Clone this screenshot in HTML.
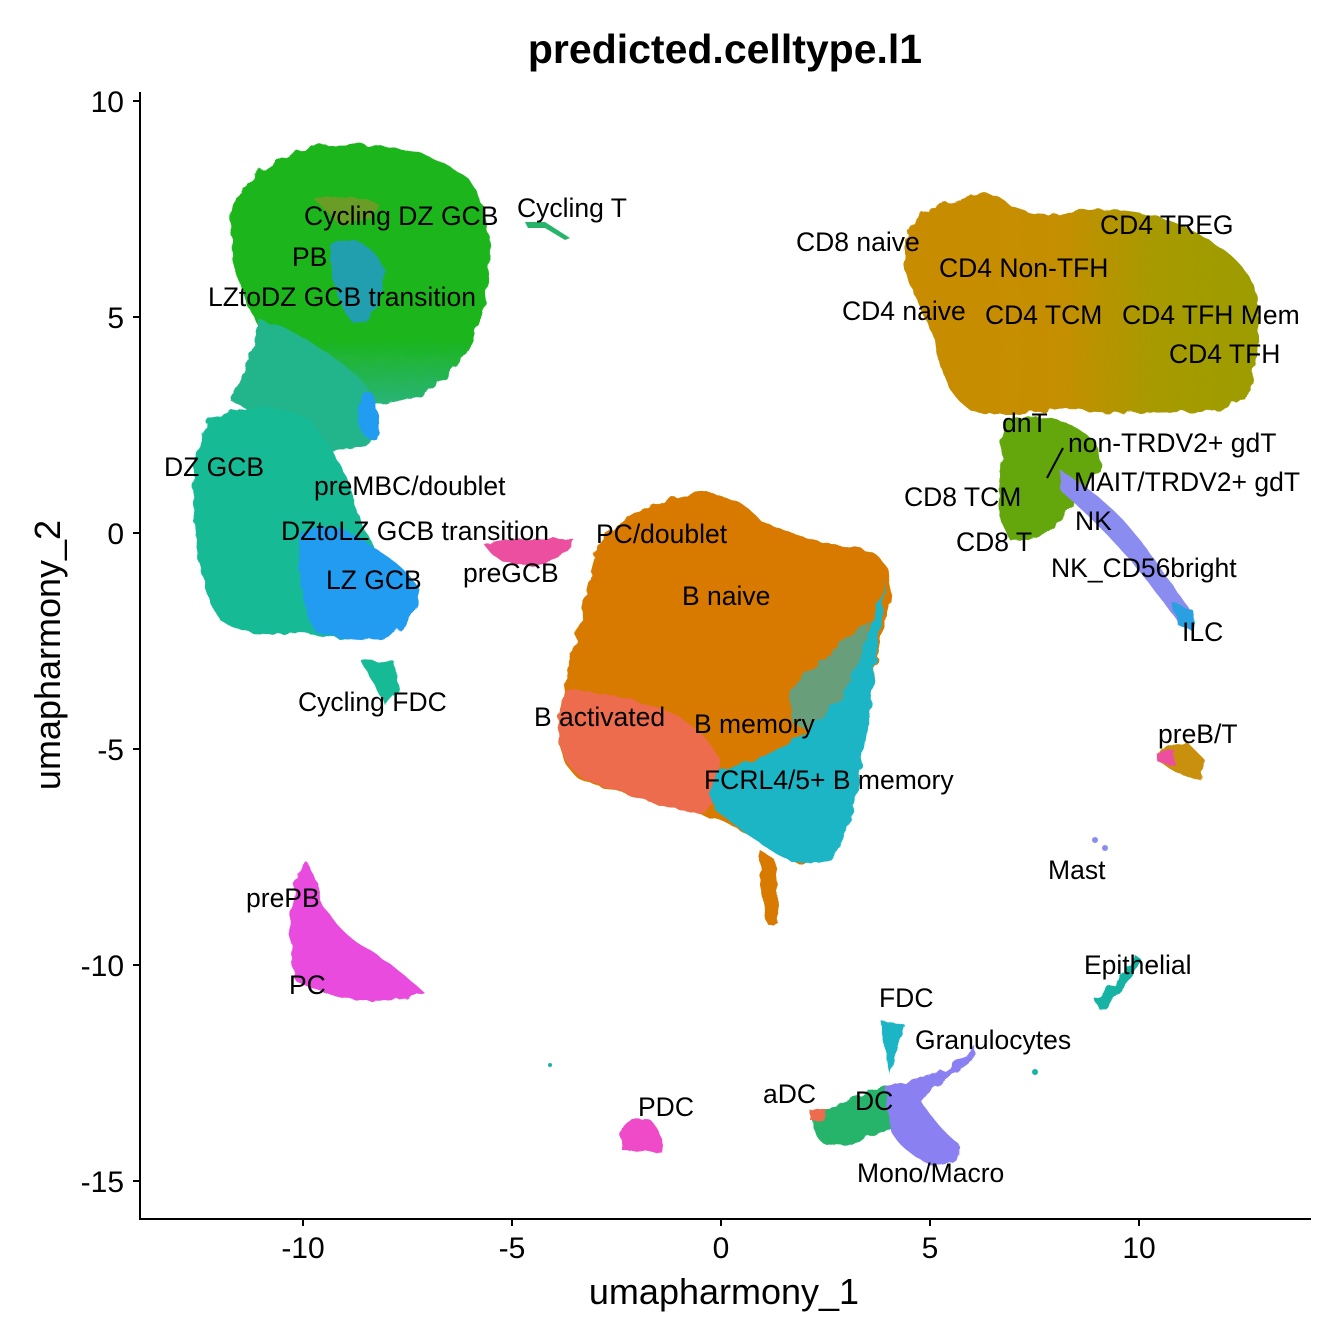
<!DOCTYPE html>
<html><head><meta charset="utf-8"><style>
html,body{margin:0;padding:0;background:#fff;}
svg{display:block;font-family:"Liberation Sans",Arial,sans-serif;}
.l{font-size:26.5px;fill:#000;}
.t{font-size:30px;fill:#000;}
</style></head><body>
<svg width="1344" height="1344" viewBox="0 0 1344 1344" xmlns="http://www.w3.org/2000/svg">
<defs>
<filter id="r" x="-5%" y="-5%" width="110%" height="110%">
<feTurbulence type="fractalNoise" baseFrequency="0.08" numOctaves="2" seed="3"/>
<feDisplacementMap in="SourceGraphic" scale="8"/>
</filter>
<linearGradient id="tg" x1="0" x2="1" y1="0" y2="0">
<stop offset="0" stop-color="#c98b05"/><stop offset="0.45" stop-color="#c48f03"/><stop offset="0.7" stop-color="#a79a05"/><stop offset="1" stop-color="#9c9d05"/>
</linearGradient>
<linearGradient id="gb" x1="0" x2="0" y1="0" y2="1">
<stop offset="0" stop-color="#1cb51c"/><stop offset="0.75" stop-color="#1cb51c"/><stop offset="1" stop-color="#2ab478"/>
</linearGradient>
</defs>
<text x="725" y="63" text-anchor="middle" font-weight="bold" font-size="41">predicted.celltype.l1</text>
<g filter="url(#r)">
<path d="M240,190 Q280,148 330,145 Q420,140 470,180 Q500,230 485,300 Q470,370 420,395 Q380,410 360,400 Q330,380 300,380 Q250,330 232,260 Q228,210 240,190Z" fill="url(#gb)"/>
<path d="M330,240 Q370,235 385,270 Q380,320 355,325 Q330,300 330,240Z" fill="#2496ec" opacity="0.7"/>
<path d="M315,200 Q345,190 380,205 Q370,225 340,225Z" fill="#e07a3a" opacity="0.4"/>
<path d="M260,320 Q300,330 350,370 Q380,390 375,440 Q340,460 300,440 Q250,410 230,400 Q250,360 260,320Z" fill="#22b58c"/>
<path d="M210,420 Q260,395 310,420 Q350,470 360,520 Q380,560 395,590 Q400,630 370,638 Q330,640 300,632 Q250,640 220,620 Q195,580 193,500 Q195,440 210,420Z" fill="#17bb96"/>
<path d="M300,530 Q340,520 370,545 Q405,565 420,590 Q412,630 380,640 Q340,640 315,632 Q295,590 300,530Z" fill="#249cf0"/>
<path d="M362,390 Q380,385 378,440 Q365,445 358,420Z" fill="#249cf0"/>
<path d="M360,660 L395,662 L400,690 L385,705 L372,680Z" fill="#17bb96"/>
<path d="M485,545 Q520,535 575,540 Q570,560 530,565 Q495,565 485,545Z" fill="#ed4fa0"/>
<path d="M600,540 Q640,500 700,492 Q740,495 760,520 Q800,540 870,550 Q895,565 890,600 Q880,640 870,700 Q860,760 850,820 Q830,860 800,865 Q760,840 720,820 Q640,800 580,780 Q555,760 558,720 Q570,660 580,620 Q590,570 600,540Z" fill="#d97a06"/>
<path d="M565,690 Q600,690 650,705 Q700,720 720,760 Q720,800 700,815 Q640,800 585,780 Q555,760 558,720Z" fill="#ec6c4e"/>
<path d="M720,770 Q780,760 840,700 Q870,640 885,580 Q875,680 862,760 Q855,830 830,860 Q800,870 770,850 Q740,830 715,810 Q705,790 720,770Z" fill="#1bb5c6"/>
<path d="M790,690 Q830,650 870,620 Q860,680 845,720 Q810,740 790,720Z" fill="#1bb5c6" opacity="0.6"/>
<path d="M760,850 L775,860 L780,925 L768,925 L760,885Z" fill="#d97a06"/>
<path d="M905,240 Q920,200 960,200 Q990,185 1010,205 Q1040,220 1080,210 Q1150,205 1200,235 Q1250,260 1258,300 Q1260,350 1250,390 Q1230,415 1180,412 Q1100,415 1060,408 Q1000,420 970,410 Q940,390 935,340 Q915,300 905,270Z" fill="url(#tg)"/>
<path d="M1005,420 Q1050,410 1080,430 Q1105,445 1100,470 Q1080,500 1060,520 Q1040,545 1010,540 Q995,520 1000,480 Q1000,440 1005,420Z" fill="#63a70f"/>
<path d="M1060,470 Q1110,500 1140,540 Q1170,580 1190,610 L1195,628 L1180,625 Q1155,590 1130,560 Q1100,525 1060,490Z" fill="#8a8cf0"/>
<path d="M1170,600 L1195,612 L1193,632 L1178,625Z" fill="#2aa0e0"/>
<path d="M1155,752 L1185,740 L1205,760 L1200,780 L1180,775 L1160,762Z" fill="#c8900a"/>
<path d="M1155,752 L1175,750 L1175,765 L1158,762Z" fill="#ed4fa0"/>
<path d="M305,862 Q312,860 320,900 Q340,935 370,950 Q400,970 425,993 Q400,1003 360,1000 Q320,995 295,980 Q288,940 292,900 Q298,870 305,862Z" fill="#e84bde"/>
<path d="M625,1125 Q645,1110 655,1125 Q665,1140 662,1152 L622,1150 Q618,1138 625,1125Z" fill="#ef4bc8"/>
<path d="M812,1112 Q850,1100 885,1085 Q905,1100 895,1125 Q870,1140 830,1148 Q812,1140 812,1112Z" fill="#27b36a"/>
<path d="M885,1085 Q910,1080 945,1070 Q960,1060 975,1045 L972,1060 Q945,1080 920,1100 Q940,1130 960,1145 Q962,1165 930,1165 Q900,1150 890,1130Z" fill="#8a80f2"/>
<path d="M810,1110 L825,1108 L825,1122 L810,1120Z" fill="#ec6c4e"/>
<path d="M880,1020 L905,1025 L900,1040 L890,1075 L883,1040Z" fill="#1bb5c6"/>
<path d="M1095,1000 Q1120,980 1135,955 L1142,960 Q1130,985 1100,1010Z" fill="#19b3a5"/>
</g>
<path d="M525,222 L545,222 L570,238 L565,240 L545,228 L528,228Z" fill="#27b36a"/>
<circle cx="1095" cy="840" r="3" fill="#8a8cf0"/><circle cx="1105" cy="848" r="3" fill="#8a8cf0"/>
<circle cx="1035" cy="1072" r="3" fill="#19b3a5"/><circle cx="550" cy="1065" r="2" fill="#19b3a5"/>
<line x1="1047" y1="478" x2="1063" y2="448" stroke="#000" stroke-width="2"/>
<line x1="140" y1="92" x2="140" y2="1219" stroke="#000" stroke-width="2"/>
<line x1="139" y1="1219" x2="1311" y2="1219" stroke="#000" stroke-width="2"/>
<g stroke="#000" stroke-width="2">
<line x1="133" y1="101" x2="140" y2="101"/><line x1="133" y1="317" x2="140" y2="317"/><line x1="133" y1="533" x2="140" y2="533"/><line x1="133" y1="749" x2="140" y2="749"/><line x1="133" y1="965" x2="140" y2="965"/><line x1="133" y1="1181" x2="140" y2="1181"/>
<line x1="303" y1="1219" x2="303" y2="1226"/><line x1="512" y1="1219" x2="512" y2="1226"/><line x1="721" y1="1219" x2="721" y2="1226"/><line x1="930" y1="1219" x2="930" y2="1226"/><line x1="1139" y1="1219" x2="1139" y2="1226"/>
</g>
<g class="t" text-anchor="end">
<text x="124" y="112">10</text><text x="124" y="328">5</text><text x="124" y="544">0</text><text x="124" y="760">-5</text><text x="124" y="976">-10</text><text x="124" y="1192">-15</text>
</g>
<g class="t" text-anchor="middle">
<text x="303" y="1258">-10</text><text x="512" y="1258">-5</text><text x="721" y="1258">0</text><text x="930" y="1258">5</text><text x="1139" y="1258">10</text>
</g>
<text x="724" y="1304" text-anchor="middle" font-size="36">umapharmony_1</text>
<text transform="translate(60,655) rotate(-90)" text-anchor="middle" font-size="36">umapharmony_2</text>
<g class="l">
<text x="304" y="225">Cycling DZ GCB</text>
<text x="517" y="217">Cycling T</text>
<text x="292" y="266">PB</text>
<text x="208" y="306">LZtoDZ GCB transition</text>
<text x="164" y="476">DZ GCB</text>
<text x="314" y="495">preMBC/doublet</text>
<text x="281" y="540">DZtoLZ GCB transition</text>
<text x="596" y="543">PC/doublet</text>
<text x="463" y="582">preGCB</text>
<text x="326" y="589">LZ GCB</text>
<text x="682" y="605">B naive</text>
<text x="298" y="711">Cycling FDC</text>
<text x="534" y="726">B activated</text>
<text x="694" y="733">B memory</text>
<text x="704" y="789">FCRL4/5+ B memory</text>
<text x="796" y="251">CD8 naive</text>
<text x="1100" y="234">CD4 TREG</text>
<text x="939" y="277">CD4 Non-TFH</text>
<text x="842" y="320">CD4 naive</text>
<text x="985" y="324">CD4 TCM</text>
<text x="1122" y="324">CD4 TFH Mem</text>
<text x="1169" y="363">CD4 TFH</text>
<text x="1002" y="432">dnT</text>
<text x="1068" y="452">non-TRDV2+ gdT</text>
<text x="1074" y="491">MAIT/TRDV2+ gdT</text>
<text x="904" y="506">CD8 TCM</text>
<text x="1075" y="530">NK</text>
<text x="956" y="551">CD8 T</text>
<text x="1051" y="577">NK_CD56bright</text>
<text x="1182" y="641">ILC</text>
<text x="1158" y="743">preB/T</text>
<text x="1048" y="879">Mast</text>
<text x="246" y="907">prePB</text>
<text x="1084" y="974">Epithelial</text>
<text x="289" y="994">PC</text>
<text x="879" y="1007">FDC</text>
<text x="915" y="1049">Granulocytes</text>
<text x="763" y="1103">aDC</text>
<text x="638" y="1116">PDC</text>
<text x="855" y="1110">DC</text>
<text x="857" y="1182">Mono/Macro</text>
</g>
</svg>
</body></html>
